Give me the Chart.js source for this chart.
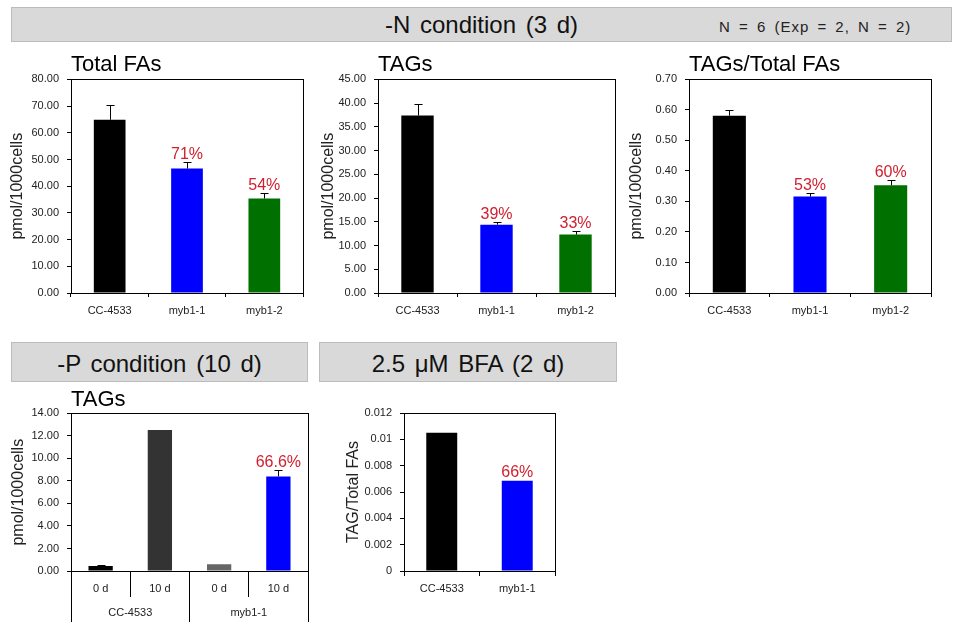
<!DOCTYPE html>
<html>
<head>
<meta charset="utf-8">
<script src="https://cdn.jsdelivr.net/npm/chart.js@4.4.1/dist/chart.umd.min.js"></script>
<style>
  body { margin: 0; background: #fff; font-family: "Liberation Sans", Arial, sans-serif; }
  #page { position: relative; width: 962px; height: 622px; overflow: hidden; }
  .box { position: absolute; background: #d9d9d9; border: 1px solid #bcbcbc; box-sizing: border-box;
         display: flex; align-items: center; justify-content: center; font-size: 24px; color: #111; word-spacing: 3px; }
  .note { position: absolute; font-size: 15px; letter-spacing: 1px; word-spacing: 3px; color: #222; }
  canvas { position: absolute; }
</style>
</head>
<body>
<div id="page">
  <div class="box" style="left:11px;top:7px;width:941px;height:35px;">-N condition (3 d)</div>
  <div class="note" style="left:719px;top:18px;">N = 6 (Exp = 2, N = 2)</div>
  <div class="box" style="left:11px;top:342px;width:297px;height:40px;padding-top:4px;">-P condition (10 d)</div>
  <div class="box" style="left:319px;top:342px;width:298px;height:40px;padding-top:4px;">2.5 μM BFA (2 d)</div>

  <canvas id="cTotal" width="310" height="270" style="left:0;top:50px;"></canvas>
  <canvas id="cTagsN" width="310" height="270" style="left:310px;top:50px;"></canvas>
  <canvas id="cRatioN" width="342" height="270" style="left:620px;top:50px;"></canvas>
  <canvas id="cTagsP" width="315" height="239" style="left:0;top:383px;"></canvas>
  <canvas id="cBFA" width="300" height="239" style="left:319px;top:383px;"></canvas>
</div>
<script>
// --- data ---
const strainsN = ['CC-4533', 'myb1-1', 'myb1-2'];
const colorsN = ['#000000', '#0000ff', '#007000'];

const totalFAs = [64.9, 46.6, 35.4];
const totalFAsErr = [5.6, 2.3, 2.2];
const totalFAsPct = ['', '71%', '54%'];

const tagsN = [37.4, 14.4, 12.3];
const tagsNErr = [2.5, 0.5, 0.7];
const tagsNPct = ['', '39%', '33%'];

const ratioN = [0.581, 0.316, 0.353];
const ratioNErr = [0.018, 0.011, 0.017];
const ratioNPct = ['', '53%', '60%'];

const daysP = ['0 d', '10 d', '0 d', '10 d'];
const groupsP = ['CC-4533', 'myb1-1'];
const colorsP = ['#000000', '#333333', '#666666', '#0000ff'];
const tagsP = [0.44, 12.53, 0.59, 8.40];
const tagsPErr = [0.06, 0, 0, 0.53];
const tagsPPct = ['', '', '', '66.6%'];

const strainsBFA = ['CC-4533', 'myb1-1'];
const colorsBFA = ['#000000', '#0000ff'];
const ratioBFA = [0.0105, 0.00685];
const ratioBFAPct = ['', '66%'];

const FONT = '"Liberation Sans", Arial, sans-serif';
Chart.defaults.font.family = FONT;
Chart.defaults.color = '#222';

// box round the plot area
const framePlugin = {
    id: 'frame',
    afterDraw(chart) {
        const a = chart.chartArea, ctx = chart.ctx;
        ctx.save();
        ctx.strokeStyle = '#000';
        ctx.lineWidth = 1;
        ctx.strokeRect(Math.round(a.left) + 0.5, Math.round(a.top) + 0.5,
            Math.round(a.right - a.left), Math.round(a.bottom - a.top));
        ctx.restore();
    }
};

// upper error whiskers + red percentage labels
const errPctPlugin = {
    id: 'errPct',
    afterDatasetsDraw(chart) {
        const ctx = chart.ctx;
        const ds = chart.data.datasets[0];
        const meta = chart.getDatasetMeta(0);
        const y = chart.scales.y;
        ctx.save();
        meta.data.forEach((bar, i) => {
            let top = bar.y;
            const err = ds.errors ? ds.errors[i] : 0;
            if (err) {
                const ye = Math.round(y.getPixelForValue(ds.data[i] + err)) + 0.5;
                const x = Math.round(bar.x) + 0.5;
                ctx.strokeStyle = '#000';
                ctx.lineWidth = 1;
                ctx.beginPath();
                ctx.moveTo(x, bar.y);
                ctx.lineTo(x, ye);
                ctx.moveTo(x - 4, ye);
                ctx.lineTo(x + 4, ye);
                ctx.stroke();
                top = ye;
            }
            const p = ds.pct ? ds.pct[i] : '';
            if (p) {
                ctx.fillStyle = '#d0202f';
                ctx.font = '16px ' + FONT;
                ctx.textAlign = 'center';
                ctx.textBaseline = 'alphabetic';
                ctx.fillText(p, bar.x, top - 4);
            }
        });
        ctx.restore();
    }
};

function yAxis(max, step, dec, title, width, titlePad) {
    return {
        min: 0, max: max,
        ticks: {
            stepSize: step, padding: 8, font: { size: 11 }, color: '#222',
            callback: v => dec < 0 ? String(+v.toFixed(3)) : v.toFixed(dec)
        },
        grid: { drawOnChartArea: false, tickLength: 4, color: '#000' },
        border: { color: '#000' },
        title: { display: true, text: title, font: { size: 16 }, color: '#222', padding: { top: titlePad, bottom: 0 } },
        afterFit: s => { s.width = width; }
    };
}

function xAxis(height, tick, pad) {
    return {
        ticks: { padding: pad, font: { size: 11 }, color: '#222', maxRotation: 0, autoSkip: false },
        grid: { drawOnChartArea: false, tickLength: tick, color: '#000', offset: true },
        border: { color: '#000' },
        afterFit: s => { s.height = height; }
    };
}

function titleOpt(text, top, bottom) {
    return {
        display: !!text, text: text, align: 'start', fullSize: false, color: '#000',
        font: { size: 22, weight: 'normal' }, padding: { top: top, bottom: bottom }
    };
}

function barData(labels, values, colors, errors, pct) {
    return {
        labels: labels,
        datasets: [{
            data: values, backgroundColor: colors, errors: errors, pct: pct,
            barPercentage: 0.41, categoryPercentage: 1, borderWidth: 0
        }]
    };
}

function baseOptions(title, padding, x, y) {
    return {
        responsive: false,
        animation: false,
        layout: { padding: padding },
        plugins: { legend: { display: false }, tooltip: { enabled: false }, title: title },
        scales: { x: x, y: y }
    };
}

// G1: Total FAs
new Chart(document.getElementById('cTotal'), {
    type: 'bar',
    data: barData(strainsN, totalFAs, colorsN, totalFAsErr, totalFAsPct),
    options: baseOptions(titleOpt('Total FAs', 2, 1), { right: 7 },
        xAxis(27, 4, 7), yAxis(80, 10, 2, 'pmol/1000cells', 71, 8.4)),
    plugins: [framePlugin, errPctPlugin]
});

// G2: TAGs (-N)
new Chart(document.getElementById('cTagsN'), {
    type: 'bar',
    data: barData(strainsN, tagsN, colorsN, tagsNErr, tagsNPct),
    options: baseOptions(titleOpt('TAGs', 2, 1), { right: 5 },
        xAxis(27, 4, 7), yAxis(45, 5, 2, 'pmol/1000cells', 68, 8.7)),
    plugins: [framePlugin, errPctPlugin]
});

// G3: TAGs / Total FAs
new Chart(document.getElementById('cRatioN'), {
    type: 'bar',
    data: barData(strainsN, ratioN, colorsN, ratioNErr, ratioNPct),
    options: baseOptions(titleOpt('TAGs/Total FAs', 2, 1), { right: 31 },
        xAxis(27, 4, 7), yAxis(0.7, 0.1, 2, 'pmol/1000cells', 69, 7.1)),
    plugins: [framePlugin, errPctPlugin]
});

// G4: TAGs (-P), two-level x axis
const optsP = baseOptions(titleOpt('TAGs', 4, 0), { right: 7 },
    xAxis(26, 26, -15), yAxis(14, 2, 2, 'pmol/1000cells', 71, 8.7));
optsP.scales.x2 = {
    type: 'category', labels: groupsP, position: 'bottom', offset: true, weight: 1,
    ticks: { padding: -16, font: { size: 11 }, color: '#222', maxRotation: 0 },
    grid: { drawOnChartArea: false, tickLength: 25, color: '#000', offset: true },
    border: { display: false },
    afterFit: s => { s.height = 25; }
};
new Chart(document.getElementById('cTagsP'), {
    type: 'bar',
    data: barData(daysP, tagsP, colorsP, tagsPErr, tagsPPct),
    options: optsP,
    plugins: [framePlugin, errPctPlugin]
});

// G5: BFA
new Chart(document.getElementById('cBFA'), {
    type: 'bar',
    data: barData(strainsBFA, ratioBFA, colorsBFA, null, ratioBFAPct),
    options: baseOptions(titleOpt('', 0, 0), { top: 30, right: 64 },
        xAxis(51, 5, 6), yAxis(0.012, 0.002, -1, 'TAG/Total FAs', 85, 24.7)),
    plugins: [framePlugin, errPctPlugin]
});
</script>
</body>
</html>
